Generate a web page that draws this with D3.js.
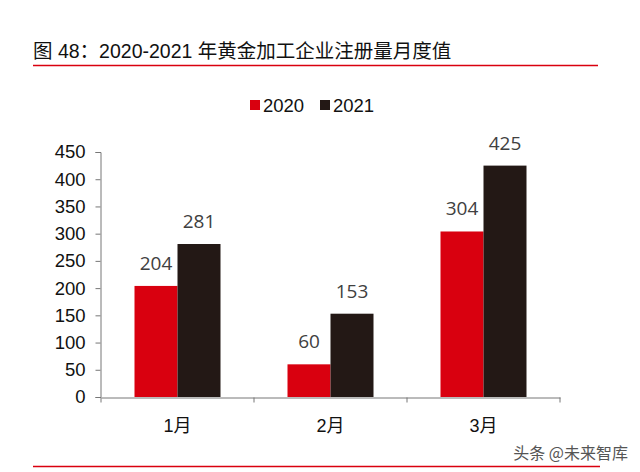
<!DOCTYPE html>
<html>
<head>
<meta charset="utf-8">
<script src="https://cdn.jsdelivr.net/npm/d3@7"></script>
<style>
  body { margin: 0; background: #fff; }
  svg { display: block; }
</style>
</head>
<body>
<svg id="chart" width="640" height="472"></svg>
<script>
const months = ["1月", "2月", "3月"];
const series = ["2020", "2021"];
const values2020 = [204, 60, 304];
const values2021 = [281, 153, 425];
const yTicks = [0, 50, 100, 150, 200, 250, 300, 350, 400, 450];

const colors = { "2020": "#d9000f", "2021": "#231815" };
const svg = d3.select("#chart");

// title + red rules
svg.append("text")
  .attr("x", 33).attr("y", 58)
  .attr("font-family", "'Liberation Sans', 'Noto Sans CJK SC', sans-serif")
  .attr("font-size", 19.5)
  .attr("fill", "#111")
  .text("图 48：2020-2021 年黄金加工企业注册量月度值");

svg.append("line")
  .attr("x1", 33).attr("x2", 598).attr("y1", 65.5).attr("y2", 65.5)
  .attr("stroke", "#d9000f").attr("stroke-width", 1.5);
svg.append("line")
  .attr("x1", 33).attr("x2", 600).attr("y1", 466.5).attr("y2", 466.5)
  .attr("stroke", "#d9000f").attr("stroke-width", 1.5);

const x0 = d3.scaleBand().domain(months).range([101, 560]);
const x1 = d3.scaleBand().domain(series).range([0, 86]);
const y = d3.scaleLinear().domain([0, 450]).range([397, 152]);

const rows = months.map((m, i) => ({ month: m, "2020": values2020[i], "2021": values2021[i] }));

// y axis
const yAxis = svg.append("g")
  .attr("transform", "translate(100.5,0)")
  .call(d3.axisLeft(y).tickValues(yTicks).tickSize(5).tickPadding(10));
yAxis.selectAll("text")
  .attr("font-family", "'Liberation Sans', Arial, sans-serif")
  .attr("font-size", 18.5).attr("fill", "#111");
yAxis.selectAll("line, path").attr("stroke", "#777");

// x axis
const xAxis = svg.append("g")
  .attr("transform", "translate(0,397.5)")
  .call(d3.axisBottom(x0).tickSize(0).tickPadding(22));
xAxis.select(".domain").attr("stroke", "#777");
xAxis.selectAll("text")
  .attr("font-family", "'Liberation Sans', 'Noto Sans CJK SC', sans-serif")
  .attr("font-size", 18).attr("fill", "#111");
// boundary ticks between categories
xAxis.selectAll(".sep")
  .data(months.concat(["end"]))
  .join("line")
  .attr("class", "sep")
  .attr("x1", (d, i) => i < months.length ? x0(d) : x0.range()[1])
  .attr("x2", (d, i) => i < months.length ? x0(d) : x0.range()[1])
  .attr("y1", 0).attr("y2", 5)
  .attr("stroke", "#777");

// bars
const groups = svg.append("g").selectAll("g")
  .data(rows)
  .join("g")
  .attr("transform", d => `translate(${x0(d.month) + x0.bandwidth() / 2 - 43},0)`);

groups.selectAll("rect")
  .data(d => series.map(s => ({ key: s, value: d[s] })))
  .join("rect")
  .attr("x", d => x1(d.key))
  .attr("width", x1.bandwidth())
  .attr("y", d => y(d.value))
  .attr("height", d => y(0) - y(d.value))
  .attr("fill", d => colors[d.key]);

groups.selectAll("text")
  .data(d => series.map(s => ({ key: s, value: d[s] })))
  .join("text")
  .attr("x", d => x1(d.key) + x1.bandwidth() / 2)
  .attr("y", d => y(d.value) - 16)
  .attr("text-anchor", "middle")
  .attr("font-family", "'Open Sans', sans-serif")
  .attr("font-size", 19)
  .attr("fill", "#404040")
  .text(d => d.value);

// legend
const legend = svg.append("g").attr("transform", "translate(250,100)");
const legendX = { "2020": 0, "2021": 70 };
series.forEach(s => {
  legend.append("rect")
    .attr("x", legendX[s]).attr("y", 0)
    .attr("width", 10).attr("height", 10)
    .attr("fill", colors[s]);
  legend.append("text")
    .attr("x", legendX[s] + 13).attr("y", 12)
    .attr("font-family", "'Liberation Sans', Arial, sans-serif")
    .attr("font-size", 18.5).attr("fill", "#111")
    .text(s);
});

// watermark
svg.append("text")
  .attr("x", 628).attr("y", 459)
  .attr("text-anchor", "end")
  .attr("font-family", "'Noto Sans CJK SC', sans-serif")
  .attr("font-size", 16)
  .attr("fill", "#555")
  .text("头条 @未来智库");
</script>
</body>
</html>
